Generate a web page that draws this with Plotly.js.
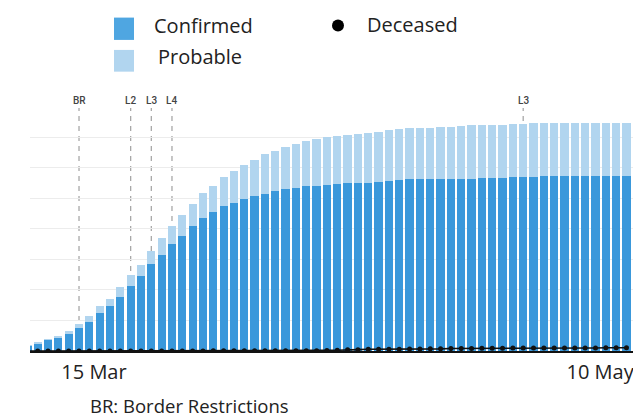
<!DOCTYPE html>
<html>
<head>
<meta charset="utf-8">
<script src="https://cdn.plot.ly/plotly-3.0.1.min.js"></script>
<style>html,body{margin:0;padding:0;background:#fff;}#chart{width:633px;height:417px;}</style>
</head>
<body>
<div id="chart"></div>
<script>
// Daily categories (cumulative counts)
const dates = [
 '2020-03-11','2020-03-12','2020-03-13','2020-03-14','2020-03-15','2020-03-16','2020-03-17','2020-03-18','2020-03-19','2020-03-20',
 '2020-03-21','2020-03-22','2020-03-23','2020-03-24','2020-03-25','2020-03-26','2020-03-27','2020-03-28','2020-03-29','2020-03-30',
 '2020-03-31','2020-04-01','2020-04-02','2020-04-03','2020-04-04','2020-04-05','2020-04-06','2020-04-07','2020-04-08','2020-04-09',
 '2020-04-10','2020-04-11','2020-04-12','2020-04-13','2020-04-14','2020-04-15','2020-04-16','2020-04-17','2020-04-18','2020-04-19',
 '2020-04-20','2020-04-21','2020-04-22','2020-04-23','2020-04-24','2020-04-25','2020-04-26','2020-04-27','2020-04-28','2020-04-29',
 '2020-04-30','2020-05-01','2020-05-02','2020-05-03','2020-05-04','2020-05-05','2020-05-06','2020-05-07','2020-05-08'
];
const confirmed = [
 35,47,70,88,113,153,193,249,294,354,
 426,488,570,630,700,754,816,872,908,949,
 970,997,1014,1030,1045,1058,1067,1078,1082,1089,
 1093,1098,1100,1102,1106,1115,1119,1124,1124,1124,
 1124,1125,1126,1128,1130,1130,1134,1137,1139,1141,
 1144,1144,1144,1144,1144,1144,1144,1144,1144
];
const probable = [
 7,12,11,13,18,25,35,44,48,64,
 72,75,88,109,120,136,146,160,173,190,
 208,221,236,258,262,276,290,297,306,310,
 315,318,323,328,328,332,335,336,338,338,
 340,344,347,350,350,352,348,347,350,350,
 349,351,351,351,351,351,351,351,351
];
const deceased = [
 0,0,0,0,0,0,0,0,0,0,
 0,0,0,0,0,0,0,0,1,1,
 1,1,1,1,1,2,2,2,2,4,
 5,9,9,11,11,12,12,13,13,14,
 14,16,16,17,18,18,18,19,19,19,
 19,20,20,20,20,20,21,21,21
];
// Events
const eventLabels = ['BR','L2','L3','L4','L3'];
const eventDates  = ['2020-03-16','2020-03-21','2020-03-23','2020-03-25','2020-04-28'];
// Axis tick labels
const tickLabels = ['15 Mar','10 May'];
const tickPos = [6.45, 55.45];

const xs = dates.map((d,i)=>i);
const FONT = '"Open Sans", "Noto Sans", sans-serif';
const dark = '#3a98db', light = '#b1d5ef';

const traces = [
 {type:'bar', name:'Confirmed', x:xs, y:confirmed, marker:{color:dark, line:{width:0}}, hoverinfo:'skip'},
 {type:'bar', name:'Probable', x:xs, y:probable, marker:{color:light, line:{width:0}}, hoverinfo:'skip'},
 {type:'scatter', mode:'lines+markers', name:'Deceased', x:xs, y:deceased,
  line:{color:'#111', width:1.6}, marker:{color:'#111', size:5}, hoverinfo:'skip'}
];

const PL = 30, PW = 603, PT = 108, PH = 242.7;
const px = v => (v - PL) / PW;
const py = v => (PT + PH - v) / PH;

const shapes = [], annotations = [];
eventDates.forEach((d,j)=>{
  const xi = dates.indexOf(d);
  shapes.push({type:'line', xref:'x', yref:'paper', x0:xi, x1:xi, y0:0, y1:1, layer:'below',
    line:{color:'#a8a8a8', width:1.3, dash:'5px,5px'}});
  annotations.push({xref:'x', yref:'paper', x:xi, y:1, yanchor:'bottom', yshift:0, showarrow:false,
    text:eventLabels[j], font:{family:'Roboto, sans-serif', size:10, color:'#444', weight:500}});
});

// Legend (drawn)
shapes.push({type:'rect', xref:'paper', yref:'paper', x0:px(114), x1:px(134), y0:py(40), y1:py(17.7), line:{width:0}, fillcolor:'#4fa6e1'});
shapes.push({type:'rect', xref:'paper', yref:'paper', x0:px(114), x1:px(134), y0:py(71.7), y1:py(50), line:{width:0}, fillcolor:light});
shapes.push({type:'circle', xref:'paper', yref:'paper', xsizemode:'pixel', ysizemode:'pixel',
  xanchor:px(338), yanchor:py(25.7), x0:-6, x1:6, y0:-6, y1:6, line:{width:0}, fillcolor:'#000'});
const legFont = {family:FONT, size:20, color:'#222'};
annotations.push({xref:'paper', yref:'paper', x:px(152), y:py(26), xanchor:'left', yanchor:'middle', showarrow:false, text:'Confirmed', font:legFont});
annotations.push({xref:'paper', yref:'paper', x:px(156), y:py(57), xanchor:'left', yanchor:'middle', showarrow:false, text:'Probable', font:legFont});
annotations.push({xref:'paper', yref:'paper', x:px(365), y:py(25), xanchor:'left', yanchor:'middle', showarrow:false, text:'Deceased', font:legFont});
annotations.push({xref:'paper', yref:'paper', x:px(88), y:py(405), xanchor:'left', yanchor:'middle', showarrow:false, text:'BR: Border Restrictions', font:{family:FONT, size:18.5, color:'#222'}});

const layout = {
  width:633, height:417,
  margin:{l:PL, r:0, t:PT, b:417-PT-PH, pad:0},
  paper_bgcolor:'#fff', plot_bgcolor:'#fff',
  barmode:'stack', bargap:0.2, showlegend:false,
  xaxis:{range:[0.255, 58.63], tickmode:'array', tickvals:tickPos, ticktext:tickLabels,
    ticks:'', showgrid:false, zeroline:false, showline:true, linecolor:'#111', linewidth:1.6,
    tickfont:{family:FONT, size:20, color:'#222'}, ticklabeloverflow:'allow', ticklabelstandoff:2, fixedrange:true},
  yaxis:{range:[0, 1591], dtick:200, showticklabels:false, ticks:'', showgrid:true, gridcolor:'#ececec', gridwidth:1,
    zeroline:false, showline:false, fixedrange:true},
  shapes, annotations
};
Plotly.newPlot('chart', traces, layout, {displayModeBar:false, staticPlot:true});
</script>
</body>
</html>
